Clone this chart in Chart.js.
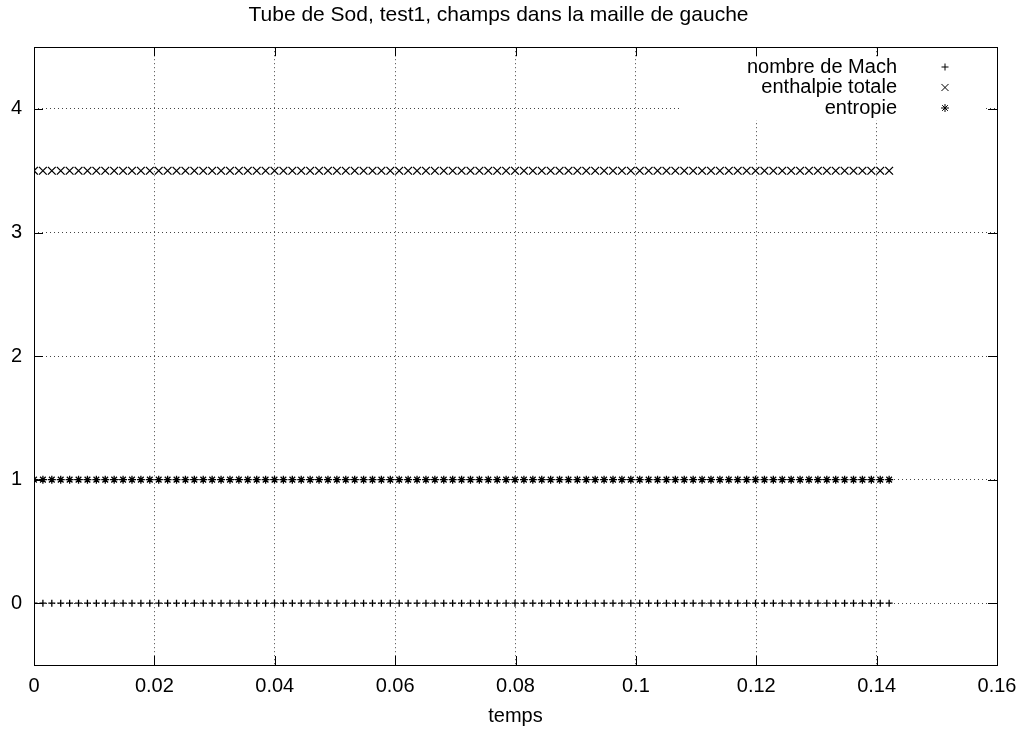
<!DOCTYPE html>
<html>
<head>
<meta charset="utf-8">
<script src="https://cdn.jsdelivr.net/npm/chart.js@4/dist/chart.umd.min.js"></script>
<style>
  html, body { margin: 0; padding: 0; background: #fff; }
  #wrap { width: 1027px; height: 730px; }
</style>
</head>
<body>
<div id="wrap"><canvas id="c"></canvas></div>
<script>
var times = [0, 0.00148, 0.00296, 0.00444, 0.00592, 0.0074, 0.00888, 0.01036, 0.01184, 0.01332,
  0.0148, 0.01628, 0.01776, 0.01924, 0.02072, 0.0222, 0.02368, 0.02516, 0.02664, 0.02812,
  0.0296, 0.03108, 0.03256, 0.03404, 0.03552, 0.037, 0.03848, 0.03996, 0.04144, 0.04292,
  0.0444, 0.04588, 0.04736, 0.04884, 0.05032, 0.0518, 0.05328, 0.05476, 0.05624, 0.05772,
  0.0592, 0.06068, 0.06216, 0.06364, 0.06512, 0.0666, 0.06808, 0.06956, 0.07104, 0.07252,
  0.074, 0.07548, 0.07696, 0.07844, 0.07992, 0.0814, 0.08288, 0.08436, 0.08584, 0.08732,
  0.0888, 0.09028, 0.09176, 0.09324, 0.09472, 0.0962, 0.09768, 0.09916, 0.10064, 0.10212,
  0.1036, 0.10508, 0.10656, 0.10804, 0.10952, 0.111, 0.11248, 0.11396, 0.11544, 0.11692,
  0.1184, 0.11988, 0.12136, 0.12284, 0.12432, 0.1258, 0.12728, 0.12876, 0.13024, 0.13172,
  0.1332, 0.13468, 0.13616, 0.13764, 0.13912, 0.1406, 0.14208];

var mach = [0, 0, 0, 0, 0, 0, 0, 0, 0, 0,
  0, 0, 0, 0, 0, 0, 0, 0, 0, 0,
  0, 0, 0, 0, 0, 0, 0, 0, 0, 0,
  0, 0, 0, 0, 0, 0, 0, 0, 0, 0,
  0, 0, 0, 0, 0, 0, 0, 0, 0, 0,
  0, 0, 0, 0, 0, 0, 0, 0, 0, 0,
  0, 0, 0, 0, 0, 0, 0, 0, 0, 0,
  0, 0, 0, 0, 0, 0, 0, 0, 0, 0,
  0, 0, 0, 0, 0, 0, 0, 0, 0, 0,
  0, 0, 0, 0, 0, 0, 0];

var enthalpie = [3.5, 3.5, 3.5, 3.5, 3.5, 3.5, 3.5, 3.5, 3.5, 3.5,
  3.5, 3.5, 3.5, 3.5, 3.5, 3.5, 3.5, 3.5, 3.5, 3.5,
  3.5, 3.5, 3.5, 3.5, 3.5, 3.5, 3.5, 3.5, 3.5, 3.5,
  3.5, 3.5, 3.5, 3.5, 3.5, 3.5, 3.5, 3.5, 3.5, 3.5,
  3.5, 3.5, 3.5, 3.5, 3.5, 3.5, 3.5, 3.5, 3.5, 3.5,
  3.5, 3.5, 3.5, 3.5, 3.5, 3.5, 3.5, 3.5, 3.5, 3.5,
  3.5, 3.5, 3.5, 3.5, 3.5, 3.5, 3.5, 3.5, 3.5, 3.5,
  3.5, 3.5, 3.5, 3.5, 3.5, 3.5, 3.5, 3.5, 3.5, 3.5,
  3.5, 3.5, 3.5, 3.5, 3.5, 3.5, 3.5, 3.5, 3.5, 3.5,
  3.5, 3.5, 3.5, 3.5, 3.5, 3.5, 3.5];

var entropie = [1, 1, 1, 1, 1, 1, 1, 1, 1, 1,
  1, 1, 1, 1, 1, 1, 1, 1, 1, 1,
  1, 1, 1, 1, 1, 1, 1, 1, 1, 1,
  1, 1, 1, 1, 1, 1, 1, 1, 1, 1,
  1, 1, 1, 1, 1, 1, 1, 1, 1, 1,
  1, 1, 1, 1, 1, 1, 1, 1, 1, 1,
  1, 1, 1, 1, 1, 1, 1, 1, 1, 1,
  1, 1, 1, 1, 1, 1, 1, 1, 1, 1,
  1, 1, 1, 1, 1, 1, 1, 1, 1, 1,
  1, 1, 1, 1, 1, 1, 1];

var series_names = ['nombre de Mach', 'enthalpie totale', 'entropie'];
var x_ticks = [0, 0.02, 0.04, 0.06, 0.08, 0.1, 0.12, 0.14, 0.16];
var y_ticks = [0, 1, 2, 3, 4];

Chart.defaults.font.family = '"Liberation Sans", Arial, sans-serif';
Chart.defaults.font.size = 20;
Chart.defaults.color = '#000';

function _points(ys){
  return times.map(function(t, i){ return {x: t, y: ys[i]}; });
}

// gnuplot look: frame, inward ticks on all sides, key box in upper right
var gnuplotLook = {
  id: 'gnuplotLook',
  beforeDatasetsDraw: function(chart){
    var ctx = chart.ctx;
    ctx.save();
    ctx.fillStyle = '#fff';
    ctx.fillRect(680, 57, 305, 63);
    ctx.restore();
  },
  afterDatasetsDraw: function(chart){
    var ctx = chart.ctx;
    var a = chart.chartArea;
    var xs = chart.scales.x, ys = chart.scales.y;
    ctx.save();
    ctx.strokeStyle = '#000';
    ctx.lineWidth = 1;
    ctx.beginPath();
    x_ticks.forEach(function(v){
      var px = Math.round(xs.getPixelForValue(v)) + 0.5;
      ctx.moveTo(px, a.bottom); ctx.lineTo(px, a.bottom - 9);
      ctx.moveTo(px, a.top); ctx.lineTo(px, a.top + 9);
    });
    y_ticks.forEach(function(v){
      var py = Math.round(ys.getPixelForValue(v)) + 0.5;
      ctx.moveTo(a.left, py); ctx.lineTo(a.left + 9, py);
      ctx.moveTo(a.right, py); ctx.lineTo(a.right - 9, py);
    });
    ctx.stroke();
    ctx.strokeRect(Math.round(a.left) + 0.5, Math.round(a.top) + 0.5,
                   Math.round(a.right - a.left), Math.round(a.bottom - a.top));

    // key
    ctx.font = '20px "Liberation Sans", Arial, sans-serif';
    ctx.fillStyle = '#000';
    ctx.textAlign = 'right';
    ctx.textBaseline = 'middle';
    chart.data.datasets.forEach(function(ds, i){
      var ty = 67 + i * 20.5;
      ctx.fillText(ds.label, 897, ty);
      Chart.helpers.drawPoint(ctx, {
        pointStyle: ds.pointStyle,
        radius: ds.keyRadius,
        borderWidth: 1.2,
        rotation: 0
      }, 945, ty);
    });
    ctx.restore();
  }
};

var datasets = [
  {label: series_names[0], data: _points(mach), pointStyle: 'cross', pointRadius: 3.5, keyRadius: 3.5},
  {label: series_names[1], data: _points(enthalpie), pointStyle: 'crossRot', pointRadius: 5.5, keyRadius: 5},
  {label: series_names[2], data: _points(entropie), pointStyle: 'star', pointRadius: 4, keyRadius: 4}
];
datasets.forEach(function(d){
  d.showLine = false;
  d.borderColor = '#000';
  d.backgroundColor = '#000';
  d.pointBorderWidth = 1.3;
});

var myChart = new Chart(document.getElementById('c'), {
  type: 'scatter',
  data: { datasets: datasets },
  options: {
    responsive: true,
    maintainAspectRatio: false,
    animation: false,
    layout: { padding: { left: 0, right: 30, top: 0, bottom: 0 } },
    plugins: {
      legend: { display: false },
      tooltip: { enabled: false },
      title: {
        display: true,
        text: 'Tube de Sod, test1, champs dans la maille de gauche',
        font: { size: 21, weight: 'normal' },
        padding: { top: 3, bottom: 19 }
      }
    },
    scales: {
      x: {
        type: 'linear',
        min: 0, max: 0.16,
        afterBuildTicks: function(scale){
          scale.ticks = x_ticks.map(function(v){ return {value: v}; });
        },
        afterFit: function(scale){ scale.height = 65; },
        ticks: {
          padding: 9,
          maxRotation: 0,
          callback: function(v){ return String(Number(v.toFixed(2))); }
        },
        grid: { color: '#444', drawTicks: false },
        border: { display: false, dash: [1, 3] },
        title: { display: true, text: 'temps', padding: { top: 4, bottom: 2 } }
      },
      y: {
        type: 'linear',
        min: -0.5, max: 4.5,
        afterBuildTicks: function(scale){
          scale.ticks = y_ticks.map(function(v){ return {value: v}; });
        },
        afterFit: function(scale){ scale.width = 34; },
        ticks: {
          padding: 12,
          callback: function(v){ return String(v); }
        },
        grid: { color: '#444', drawTicks: false },
        border: { display: false, dash: [1, 3] }
      }
    }
  },
  plugins: [gnuplotLook]
});
</script>
</body>
</html>
